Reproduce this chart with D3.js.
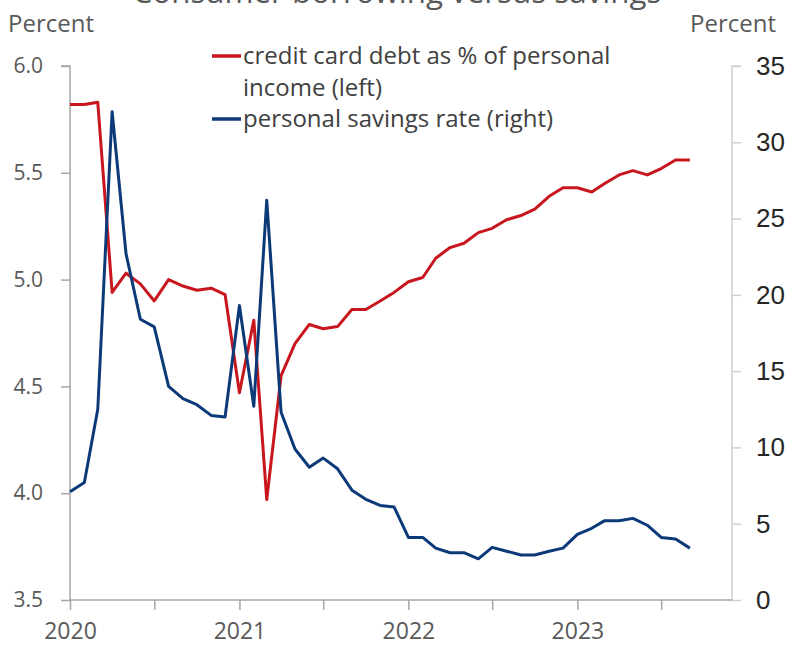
<!DOCTYPE html>
<html><head><meta charset="utf-8">
<script src="https://cdn.jsdelivr.net/npm/d3@7/dist/d3.min.js"></script>
<style>body{margin:0;background:#fff}svg{display:block}</style>
</head><body><svg id="c" width="789" height="647"></svg>
<script>
const title = "Consumer borrowing versus savings";
const startMonth = "2020-01";
const creditCardDebt = [5.82,5.82,5.83,4.94,5.03,4.98,4.90,5.00,4.97,4.95,4.96,4.93,
  4.47,4.81,3.97,4.55,4.70,4.79,4.77,4.78,4.86,4.86,4.90,4.94,
  4.99,5.01,5.10,5.15,5.17,5.22,5.24,5.28,5.30,5.33,5.39,5.43,
  5.43,5.41,5.45,5.49,5.51,5.49,5.52,5.56,5.56];
const savingsRate = [7.1,7.7,12.5,32.0,22.7,18.4,17.9,14.0,13.2,12.8,12.1,12.0,
  19.3,12.7,26.2,12.3,9.9,8.7,9.3,8.6,7.2,6.6,6.2,6.1,
  4.1,4.1,3.4,3.1,3.1,2.7,3.45,3.2,2.95,2.95,3.2,3.4,
  4.3,4.7,5.2,5.2,5.35,4.9,4.1,4.0,3.4];
const leftTicks = [3.5,4.0,4.5,5.0,5.5,6.0];
const rightTicks = [0,5,10,15,20,25,30,35];
const xTickDates = ["2020-01","2020-07","2021-01","2021-07","2022-01","2022-07","2023-01","2023-07"];
const legendLabels = [["credit card debt as % of personal","income (left)"],["personal savings rate (right)"]];
const axisUnit = "Percent";

const parse = d3.timeParse("%Y-%m");
const t0 = parse(startMonth);
const dates = creditCardDebt.map((_, i) => d3.timeMonth.offset(t0, i));

const svg = d3.select("#c");
const L = 70, R = 732, T = 66, B = 600;
const x = d3.scaleTime().domain([t0, parse("2023-12")]).range([L, R]);
const yL = d3.scaleLinear().domain([3.5, 6.0]).range([B, T]);
const yR = d3.scaleLinear().domain([0, 35]).range([B, T]);

const red = "#c8161e", blue = "#0c3a78";
const gray = "#595959";

// title (clipped at top as in the reference)
const tt = svg.append("text").attr("x", 397).attr("y", 3).attr("text-anchor", "middle")
  .attr("font-family", "Open Sans").attr("font-size", 30).attr("fill", gray).text(title);
const w = tt.node().getComputedTextLength();
tt.attr("font-size", 30 * 529 / w);

// axes
const gL = svg.append("g").attr("transform", `translate(${L},0)`)
  .call(d3.axisLeft(yL).tickValues(leftTicks).tickFormat(d3.format(".1f")).tickSize(9).tickPadding(18));
const gR = svg.append("g").attr("transform", `translate(${R},0)`)
  .call(d3.axisRight(yR).tickValues(rightTicks).tickSize(9).tickPadding(15));
const gX = svg.append("g").attr("transform", `translate(0,${B})`)
  .call(d3.axisBottom(x).tickValues(xTickDates.map(parse))
    .tickFormat(d => d.getMonth() === 0 ? d3.timeFormat("%Y")(d) : "").tickSize(10).tickPadding(13));

[gL, gX].forEach(g => {
  g.select(".domain").attr("stroke", "#a6a6a6").attr("stroke-width", 1.5);
  g.selectAll(".tick line").attr("stroke", "#a6a6a6").attr("stroke-width", 1.5);
  g.selectAll("text").attr("font-family", "Open Sans").attr("font-size", 21).attr("fill", gray);
});
gX.selectAll("text").attr("font-size", 23);
gR.select(".domain").attr("stroke", "#d0d0d0").attr("stroke-width", 1.5);
gR.selectAll(".tick line").attr("stroke", "#d0d0d0").attr("stroke-width", 1.5);
gR.selectAll("text").attr("font-family", "Liberation Sans").attr("font-size", 26).attr("fill", "#262626");
gL.select(".domain").attr("d", `M-9,${T}H0V${B}`);
gX.select(".domain").attr("d", `M${L},0H${R}`);
gR.select(".domain").attr("d", `M9,${T}H0V${B}`);

svg.append("text").attr("x", 8).attr("y", 32).attr("font-family", "Open Sans").attr("font-size", 24)
  .attr("fill", gray).text(axisUnit);
svg.append("text").attr("x", 776).attr("y", 32).attr("text-anchor", "end").attr("font-family", "Open Sans")
  .attr("font-size", 24).attr("fill", gray).text(axisUnit);

// lines
const lineL = d3.line().x((d, i) => x(dates[i])).y(d => yL(d));
const lineR = d3.line().x((d, i) => x(dates[i])).y(d => yR(d));
svg.append("path").datum(creditCardDebt).attr("d", lineL).attr("fill", "none")
  .attr("stroke", red).attr("stroke-width", 3).attr("stroke-linejoin", "round");
svg.append("path").datum(savingsRate).attr("d", lineR).attr("fill", "none")
  .attr("stroke", blue).attr("stroke-width", 3).attr("stroke-linejoin", "round");

// legend
const leg = svg.append("g").attr("font-family", "Open Sans").attr("font-size", 24).attr("fill", "#404040");
const legColors = [red, blue];
const legY = [56, 119];
legendLabels.forEach((lines, k) => {
  leg.append("line").attr("x1", 212).attr("x2", 241).attr("y1", legY[k]).attr("y2", legY[k])
    .attr("stroke", legColors[k]).attr("stroke-width", 3.5);
  lines.forEach((s, j) => {
    leg.append("text").attr("x", 243).attr("y", legY[k] + 8 + j * 32).text(s);
  });
});
</script></body></html>
